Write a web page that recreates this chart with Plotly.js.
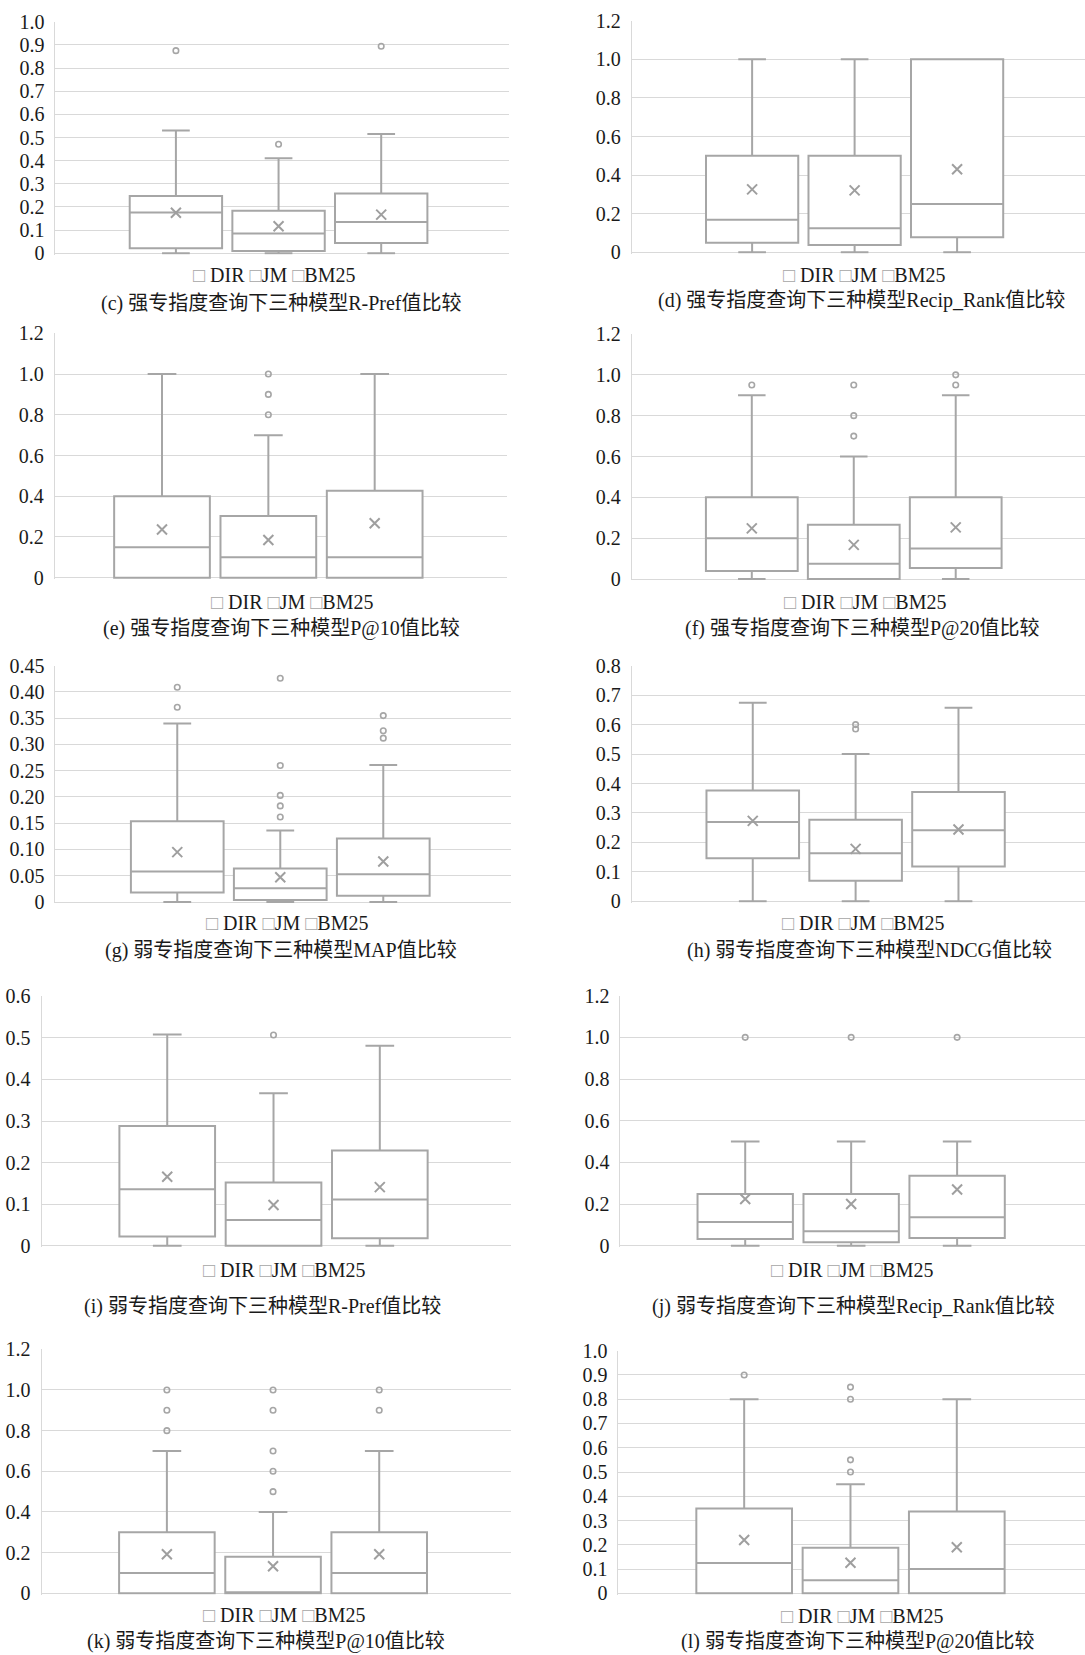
<!DOCTYPE html>
<html>
<head>
<meta charset="utf-8">
<script src="https://cdn.plot.ly/plotly-3.0.1.min.js"></script>
<style>
html,body{margin:0;padding:0;background:#ffffff;}
#chart{width:1085px;height:1655px;}
</style>
</head>
<body>
<div id="chart"></div>
<script>
// ---------------- DATA ----------------
const models = ['DIR', 'JM', 'BM25'];

// tick values / labels
const ticks10 = [0, 0.1, 0.2, 0.3, 0.4, 0.5, 0.6, 0.7, 0.8, 0.9, 1.0];
const ticks10Text = ['0', '0.1', '0.2', '0.3', '0.4', '0.5', '0.6', '0.7', '0.8', '0.9', '1.0'];
const ticks12 = [0, 0.2, 0.4, 0.6, 0.8, 1.0, 1.2];
const ticks12Text = ['0', '0.2', '0.4', '0.6', '0.8', '1.0', '1.2'];
const ticks045 = [0, 0.05, 0.10, 0.15, 0.20, 0.25, 0.30, 0.35, 0.40, 0.45];
const ticks045Text = ['0', '0.05', '0.10', '0.15', '0.20', '0.25', '0.30', '0.35', '0.40', '0.45'];
const ticks08 = [0, 0.1, 0.2, 0.3, 0.4, 0.5, 0.6, 0.7, 0.8];
const ticks08Text = ['0', '0.1', '0.2', '0.3', '0.4', '0.5', '0.6', '0.7', '0.8'];
const ticks06 = [0, 0.1, 0.2, 0.3, 0.4, 0.5, 0.6];
const ticks06Text = ['0', '0.1', '0.2', '0.3', '0.4', '0.5', '0.6'];

const captions = [
  '(c) 强专指度查询下三种模型R-Pref值比较',
  '(d) 强专指度查询下三种模型Recip_Rank值比较',
  '(e) 强专指度查询下三种模型P@10值比较',
  '(f) 强专指度查询下三种模型P@20值比较',
  '(g) 弱专指度查询下三种模型MAP值比较',
  '(h) 弱专指度查询下三种模型NDCG值比较',
  '(i) 弱专指度查询下三种模型R-Pref值比较',
  '(j) 弱专指度查询下三种模型Recip_Rank值比较',
  '(k) 弱专指度查询下三种模型P@10值比较',
  '(l) 弱专指度查询下三种模型P@20值比较'
];

// (c) strong R-Pref
const cUpper = [0.53, 0.41, 0.515];
const cQ3 = [0.247, 0.184, 0.258];
const cMedian = [0.176, 0.086, 0.135];
const cQ1 = [0.022, 0.010, 0.045];
const cLower = [0, 0, 0];
const cMean = [0.175, 0.117, 0.167];
const cOutliers = [[0.875], [0.471], [0.894]];

// (d) strong Recip_Rank
const dUpper = [1.0, 1.0, 1.0];
const dQ3 = [0.5, 0.5, 1.0];
const dMedian = [0.169, 0.124, 0.25];
const dQ1 = [0.05, 0.038, 0.078];
const dLower = [0, 0, 0];
const dMean = [0.326, 0.321, 0.43];
const dOutliers = [[], [], []];

// (e) strong P@10
const eUpper = [1.0, 0.7, 1.0];
const eQ3 = [0.4, 0.303, 0.427];
const eMedian = [0.15, 0.1, 0.1];
const eQ1 = [0, 0, 0];
const eLower = [0, 0, 0];
const eMean = [0.237, 0.185, 0.267];
const eOutliers = [[], [0.8, 0.9, 1.0], []];

// (f) strong P@20
const fUpper = [0.9, 0.6, 0.9];
const fQ3 = [0.4, 0.266, 0.4];
const fMedian = [0.2, 0.075, 0.15];
const fQ1 = [0.039, 0, 0.054];
const fLower = [0, 0, 0];
const fMean = [0.248, 0.167, 0.253];
const fOutliers = [[0.95], [0.7, 0.8, 0.95], [0.95, 1.0]];

// (g) weak MAP
const gUpper = [0.34, 0.136, 0.261];
const gQ3 = [0.154, 0.064, 0.121];
const gMedian = [0.058, 0.026, 0.053];
const gQ1 = [0.018, 0.004, 0.012];
const gLower = [0, 0, 0];
const gMean = [0.095, 0.047, 0.077];
const gOutliers = [[0.371, 0.409], [0.162, 0.183, 0.203, 0.26, 0.426], [0.312, 0.326, 0.355]];

// (h) weak NDCG
const hUpper = [0.674, 0.5, 0.657];
const hQ3 = [0.376, 0.277, 0.371];
const hMedian = [0.269, 0.163, 0.241];
const hQ1 = [0.146, 0.07, 0.118];
const hLower = [0, 0, 0];
const hMean = [0.273, 0.178, 0.244];
const hOutliers = [[], [0.585, 0.6], []];

// (i) weak R-Pref
const iUpper = [0.508, 0.367, 0.481];
const iQ3 = [0.288, 0.152, 0.229];
const iMedian = [0.136, 0.062, 0.111];
const iQ1 = [0.022, 0, 0.018];
const iLower = [0, 0, 0];
const iMean = [0.166, 0.098, 0.141];
const iOutliers = [[], [0.507], []];

// (j) weak Recip_Rank
const jUpper = [0.5, 0.5, 0.5];
const jQ3 = [0.248, 0.248, 0.336];
const jMedian = [0.114, 0.069, 0.136];
const jQ1 = [0.032, 0.016, 0.037];
const jLower = [0, 0, 0];
const jMean = [0.224, 0.2, 0.27];
const jOutliers = [[1.0], [1.0], [1.0]];

// (k) weak P@10
const kUpper = [0.7, 0.4, 0.7];
const kQ3 = [0.3, 0.18, 0.3];
const kMedian = [0.1, 0, 0.1];
const kQ1 = [0, 0, 0];
const kLower = [0, 0, 0];
const kMean = [0.192, 0.133, 0.192];
const kOutliers = [[0.8, 0.9, 1.0], [0.5, 0.6, 0.7, 0.9, 1.0], [0.9, 1.0]];

// (l) weak P@20
const lUpper = [0.8, 0.45, 0.8];
const lQ3 = [0.35, 0.188, 0.337];
const lMedian = [0.125, 0.054, 0.1];
const lQ1 = [0, 0, 0];
const lLower = [0, 0, 0];
const lMean = [0.22, 0.126, 0.19];
const lOutliers = [[0.9], [0.5, 0.55, 0.8, 0.85], []];

const panels = [
  {upper: cUpper, q3: cQ3, median: cMedian, q1: cQ1, lower: cLower, mean: cMean, outliers: cOutliers, ticks: ticks10, tickText: ticks10Text},
  {upper: dUpper, q3: dQ3, median: dMedian, q1: dQ1, lower: dLower, mean: dMean, outliers: dOutliers, ticks: ticks12, tickText: ticks12Text},
  {upper: eUpper, q3: eQ3, median: eMedian, q1: eQ1, lower: eLower, mean: eMean, outliers: eOutliers, ticks: ticks12, tickText: ticks12Text},
  {upper: fUpper, q3: fQ3, median: fMedian, q1: fQ1, lower: fLower, mean: fMean, outliers: fOutliers, ticks: ticks12, tickText: ticks12Text},
  {upper: gUpper, q3: gQ3, median: gMedian, q1: gQ1, lower: gLower, mean: gMean, outliers: gOutliers, ticks: ticks045, tickText: ticks045Text},
  {upper: hUpper, q3: hQ3, median: hMedian, q1: hQ1, lower: hLower, mean: hMean, outliers: hOutliers, ticks: ticks08, tickText: ticks08Text},
  {upper: iUpper, q3: iQ3, median: iMedian, q1: iQ1, lower: iLower, mean: iMean, outliers: iOutliers, ticks: ticks06, tickText: ticks06Text},
  {upper: jUpper, q3: jQ3, median: jMedian, q1: jQ1, lower: jLower, mean: jMean, outliers: jOutliers, ticks: ticks12, tickText: ticks12Text},
  {upper: kUpper, q3: kQ3, median: kMedian, q1: kQ1, lower: kLower, mean: kMean, outliers: kOutliers, ticks: ticks12, tickText: ticks12Text},
  {upper: lUpper, q3: lQ3, median: lMedian, q1: lQ1, lower: lLower, mean: lMean, outliers: lOutliers, ticks: ticks10, tickText: ticks10Text}
];

// ---------------- LAYOUT (pixel geometry of each panel) ----------------
const W = 1085, H = 1655;
const geometry = [
  {l: 55.4,  r: 509,   t: 21.7,   b: 253.3,  xr: [-1.174, 3.245], lg: [273.5, 275],   cp: [281.3, 303.3]},
  {l: 631.8, r: 1085,  t: 20.7,   b: 252.3,  xr: [-1.174, 3.248], lg: [863.8, 275],   cp: [861.4, 300]},
  {l: 54.7,  r: 507.3, t: 333.3,  b: 577.7,  xr: [-1.009, 3.247], lg: [291.6, 601.7], cp: [281.3, 628.3]},
  {l: 631.8, r: 1085,  t: 334,    b: 579,    xr: [-1.177, 3.268], lg: [865, 601.7],   cp: [862.7, 628.3]},
  {l: 55.4,  r: 510.7, t: 665.7,  b: 902,    xr: [-1.183, 3.237], lg: [287.1, 923.3], cp: [280.5, 951]},
  {l: 631.8, r: 1085,  t: 665.7,  b: 901.3,  xr: [-1.176, 3.230], lg: [863.3, 923.3], cp: [869.6, 951]},
  {l: 41.6,  r: 511.4, t: 996.3,  b: 1245.7, xr: [-1.182, 3.238], lg: [284, 1270],    cp: [262.8, 1306.7]},
  {l: 620.4, r: 1085,  t: 995.7,  b: 1245.7, xr: [-1.178, 3.207], lg: [852, 1270],    cp: [853.2, 1306.7]},
  {l: 41.6,  r: 511.4, t: 1349.3, b: 1593.3, xr: [-1.180, 3.245], lg: [284, 1615],    cp: [265.7, 1641.7]},
  {l: 618.4, r: 1085,  t: 1350.7, b: 1593.3, xr: [-1.183, 3.206], lg: [862, 1616],    cp: [857.6, 1641.7]}
];

const SERIF = '"Liberation Serif", "Noto Sans CJK SC", serif';
const CAPFONT = '"Liberation Serif", "Noto Sans CJK SC", serif';
const GRID = '#d9d9d9';
const BOX = '#a6a6a6';
const MARK = '#9f9f9f';
const TEXT = '#1a1a1a';

const traces = [];
const layout = {
  width: W, height: H,
  margin: {l: 0, r: 0, t: 0, b: 0},
  paper_bgcolor: '#ffffff', plot_bgcolor: '#ffffff',
  showlegend: false,
  boxmode: 'overlay', boxgap: 0.1, boxgroupgap: 0,
  font: {family: SERIF, size: 20, color: TEXT},
  annotations: []
};

panels.forEach((p, i) => {
  const g = geometry[i];
  const n = i === 0 ? '' : String(i + 1);
  const xa = 'x' + n, ya = 'y' + n;
  const yMax = p.ticks[p.ticks.length - 1];
  const pad = 0.006;
  const bottomPx = g.b + (g.b - g.t) * pad;
  layout['xaxis' + n] = {
    domain: [g.l / W, Math.min(1, g.r / W)], anchor: ya,
    type: 'category', categoryorder: 'array', categoryarray: models,
    range: g.xr, showticklabels: false, showgrid: false, zeroline: false,
    showline: false, ticks: '', fixedrange: true
  };
  layout['yaxis' + n] = {
    domain: [1 - bottomPx / H, 1 - g.t / H], anchor: xa,
    range: [-yMax * pad, yMax], tickmode: 'array', tickvals: p.ticks, ticktext: p.tickText,
    showgrid: true, gridcolor: GRID, gridwidth: 1, zeroline: false,
    showline: true, linecolor: GRID, linewidth: 1, ticks: '', ticklabelstandoff: 6,
    tickfont: {family: SERIF, size: 20, color: TEXT}, fixedrange: true
  };
  models.forEach((m, k) => {
    traces.push({
      type: 'box', orientation: 'v', name: m,
      x: [m], q1: [p.q1[k]], median: [p.median[k]], q3: [p.q3[k]],
      lowerfence: [p.lower[k]], upperfence: [p.upper[k]],
      boxpoints: false, boxmean: false, whiskerwidth: 0.3,
      line: {color: BOX, width: 2}, fillcolor: '#ffffff',
      xaxis: xa, yaxis: ya, showlegend: false, hoverinfo: 'y'
    });
  });
  traces.push({
    type: 'scatter', mode: 'markers', name: 'mean',
    x: models, y: p.mean,
    marker: {symbol: 'x-thin-open', size: 10, color: MARK, line: {width: 2, color: MARK}},
    xaxis: xa, yaxis: ya, showlegend: false
  });
  const ox = [], oy = [];
  p.outliers.forEach((arr, k) => arr.forEach(v => { ox.push(models[k]); oy.push(v); }));
  if (ox.length) {
    traces.push({
      type: 'scatter', mode: 'markers', name: 'outliers',
      x: ox, y: oy,
      marker: {symbol: 'circle-open', size: 5.5, color: BOX, line: {width: 1.6, color: BOX}},
      xaxis: xa, yaxis: ya, showlegend: false, cliponaxis: false
    });
  }
  const sq = '<span style="color:' + BOX + '">□</span>';
  const legendText = models.map((m, k) => sq + (k === 0 ? ' ' : '') + m).join(' ');
  layout.annotations.push({
    xref: 'paper', yref: 'paper', x: g.lg[0] / W, y: 1 - g.lg[1] / H,
    xanchor: 'center', yanchor: 'middle', showarrow: false,
    text: legendText, font: {family: SERIF, size: 20, color: TEXT}
  });
  layout.annotations.push({
    xref: 'paper', yref: 'paper', x: g.cp[0] / W, y: 1 - g.cp[1] / H,
    xanchor: 'center', yanchor: 'middle', showarrow: false,
    text: captions[i], font: {family: CAPFONT, size: 20, color: TEXT}
  });
});

Plotly.newPlot('chart', traces, layout, {displayModeBar: false, staticPlot: true});
</script>
</body>
</html>
